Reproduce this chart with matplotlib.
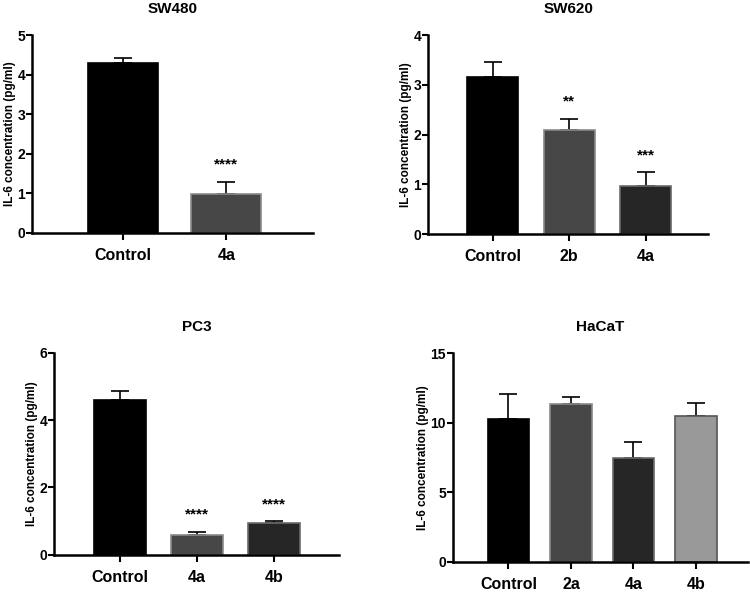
import matplotlib
matplotlib.use("Agg")
import matplotlib.pyplot as plt

plt.rcParams['font.family'] = ['Liberation Sans', 'DejaVu Sans']
plt.rcParams['font.weight'] = 'bold'

# ---- data ----
sw480_labels = ['Control', '4a']
sw480_mean = [4.29, 0.97]
sw480_err = [0.12, 0.32]
sw480_stars = ['', '****']

sw620_labels = ['Control', '2b', '4a']
sw620_mean = [3.15, 2.09, 0.97]
sw620_err = [0.31, 0.23, 0.27]
sw620_stars = ['', '**', '***']

pc3_labels = ['Control', '4a', '4b']
pc3_mean = [4.61, 0.59, 0.95]
pc3_err = [0.27, 0.08, 0.04]
pc3_stars = ['', '****', '****']

hacat_labels = ['Control', '2a', '4a', '4b']
hacat_mean = [10.25, 11.33, 7.51, 10.51]
hacat_err = [1.82, 0.55, 1.15, 0.91]
hacat_stars = ['', '', '', '']

fills = {'Control': '#000000', '2a': '#474747', '2b': '#474747'}
edges = {'Control': '#000000', '2a': '#8a8a8a', '2b': '#8a8a8a'}


def colours(labels, panel):
    fc, ec = [], []
    for lab in labels:
        if lab in fills:
            fc.append(fills[lab]); ec.append(edges[lab])
        elif lab == '4a':
            if panel in ('SW480', 'PC3'):
                fc.append('#474747'); ec.append('#8a8a8a')
            else:
                fc.append('#262626'); ec.append('#6a6a6a')
        else:  # 4b
            if panel == 'HaCaT':
                fc.append('#999999'); ec.append('#555555')
            else:
                fc.append('#262626'); ec.append('#6a6a6a')
    return fc, ec


fig = plt.figure(figsize=(7.5, 5.94), dpi=100)

panels = [
    ('SW480', sw480_labels, sw480_mean, sw480_err, sw480_stars, 5, [0, 1, 2, 3, 4, 5],
     [0.043, 0.608, 0.374, 0.333], (-0.879, 1.836), 0.676),
    ('SW620', sw620_labels, sw620_mean, sw620_err, sw620_stars, 4, [0, 1, 2, 3, 4],
     [0.571, 0.606, 0.373, 0.335], (-0.843, 2.817), 0.667),
    ('PC3', pc3_labels, pc3_mean, pc3_err, pc3_stars, 6, [0, 2, 4, 6],
     [0.072, 0.066, 0.380, 0.340], (-0.857, 2.844), 0.675),
    ('HaCaT', hacat_labels, hacat_mean, hacat_err, hacat_stars, 15, [0, 5, 10, 15],
     [0.604, 0.054, 0.393, 0.351], (-0.888, 3.83), 0.664),
]

for title, labels, mean, err, stars, ymax, yt, pos, xl, w in panels:
    ax = fig.add_axes(pos)
    x = list(range(len(labels)))
    fc, ec = colours(labels, title)
    ax.bar(x, mean, width=w, color=fc, edgecolor=ec, linewidth=1.2, zorder=2)
    ax.errorbar(x, mean, yerr=[[0] * len(err), err], fmt='none', ecolor='black',
                elinewidth=1.2, capsize=6.5, capthick=1.2, zorder=1)
    for xi, m, e, s in zip(x, mean, err, stars):
        if s:
            ax.annotate(s, (xi, m + e), xytext=(0, 12.5), textcoords='offset points',
                        ha='center', va='center', fontsize=11, fontweight='bold')
    ax.set_xlim(*xl)
    ax.set_ylim(0, ymax)
    ax.set_yticks(yt)
    ax.set_xticks(x)
    ax.set_xticklabels(labels, fontsize=11.5, fontweight='bold')
    ax.tick_params(axis='y', labelsize=10, width=1.5, length=4, direction='out', pad=1)
    ax.tick_params(axis='x', width=1.5, length=5, direction='out', pad=6)
    for lab in ax.get_yticklabels():
        lab.set_fontweight('bold')
    for sp in ['top', 'right']:
        ax.spines[sp].set_visible(False)
    for sp in ['left', 'bottom']:
        ax.spines[sp].set_linewidth(1.8)
    ax.set_ylabel('IL-6 concentration (pg/ml)', fontsize=8.5, fontweight='bold', labelpad=1)
    ax.set_title(title, fontsize=11, fontweight='bold', pad=16)

fig.savefig('out.png', dpi=100)
